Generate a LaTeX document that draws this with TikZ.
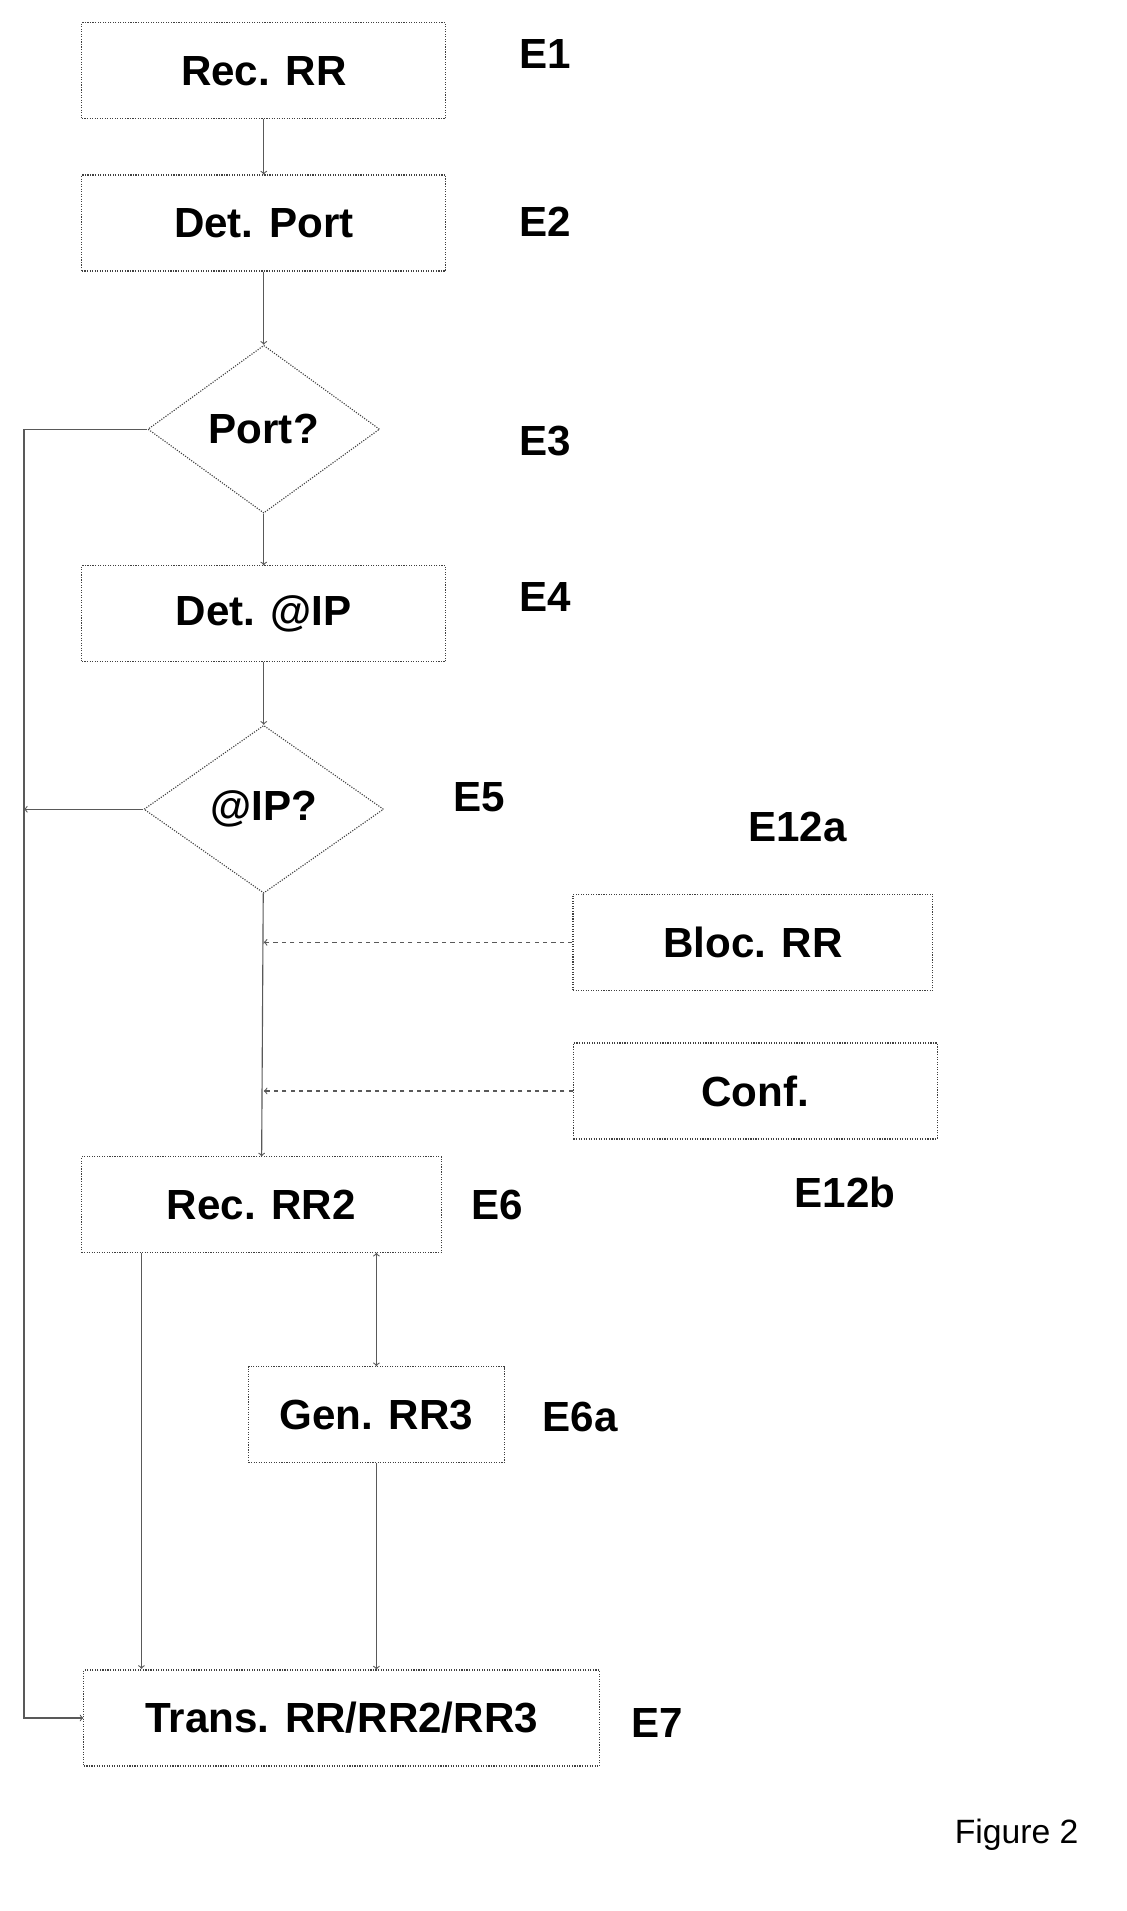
\documentclass[tikz,border=0pt]{standalone}
\usepackage{fontspec}
\setmainfont{Liberation Sans}
\usetikzlibrary{shapes.geometric, arrows, positioning}
\tikzset{
  stage/.style={draw=black!75, densely dotted, thick, rectangle, minimum height=2.4cm, font=\fontsize{30}{36}\selectfont\bfseries},
  test/.style={draw=black!75, densely dotted, thick, diamond, minimum width=5.8cm, minimum height=4.2cm, inner sep=0pt, font=\fontsize{30}{36}\selectfont\bfseries},
  lbl/.style={font=\fontsize{30}{36}\selectfont\bfseries},
  link/.style={draw=black!65, thick, ->, >=to}
}
\begin{document}
\begin{tikzpicture}[x=0.03cm, y=-0.03cm]
	\useasboundingbox (0,0) rectangle (940,1594);
	\node[stage, minimum width=9.1cm] (e1) at (220,59) {Rec. RR};
	\node[stage, minimum width=9.1cm] (e2) at (220,186) {Det. Port};
	\node[test] (e3) at (220,358) {Port?};
	\node[stage, minimum width=9.1cm] (e4) at (220,512) {Det. @IP};
	\node[test, minimum width=6cm] (e5) at (220,675) {@IP?};
	\node[stage, minimum width=9cm] (e12a) at (628,786) {Bloc. RR};
	\node[stage, minimum width=9.1cm] (e12b) at (630,910) {Conf.};
	\node[stage, minimum width=9cm] (e6) at (218,1005) {Rec. RR2};
	\node[stage, minimum width=6.4cm] (e6a) at (314,1180) {Gen. RR3};
	\node[stage, minimum width=12.9cm] (e7) at (285,1433) {Trans. RR/RR2/RR3};
	% labels
	\node[lbl] (l1) at (455,45) {E1};
	\node[lbl] (l2) at (455,185) {E2};
	\node[lbl] (l3) at (455,368) {E3};
	\node[lbl] (l4) at (455,498) {E4};
	\node[lbl] (l5) at (400,665) {E5};
	\node[lbl] (l12a) at (665,690) {E12a};
	\node[lbl] (l12b) at (705,995) {E12b};
	\node[lbl] (l6) at (415,1005) {E6};
	\node[lbl] (l6a) at (484,1182) {E6a};
	\node[lbl] (l7) at (548,1437) {E7};
	\node[font=\fontsize{24}{28}\selectfont] (fig) at (848,1530) {Figure 2};
	% junctions
	\coordinate (left3) at (20,358);
	\coordinate (left5) at (20,675);
	\coordinate (left7) at (20,1433);
	\coordinate (j1) at (220,786);
	\coordinate (j2) at (220,910);
	\coordinate (out6) at (118,1045);
	\coordinate (in7) at (118,1392);
	\coordinate (out6a) at (314,1045);
	\path[link]
		(e1) edge (e2)
		(e2) edge (e3)
		(e3) edge (e4)
		(e4) edge (e5)
		(e5) edge (e6)
		(e5.west) edge (left5)
		(out6) edge (in7)
		(out6a) edge (e6a.north)
		(e6a) edge (e6a |- e7.north);
	\draw[link] (e3.west) -- (left3) -- (left7) -- (e7.west);
	\draw[link, dashed] (e12a.west) -- (j1);
	\draw[link, dashed] (e12b.west) -- (j2);
\end{tikzpicture}
\end{document}
